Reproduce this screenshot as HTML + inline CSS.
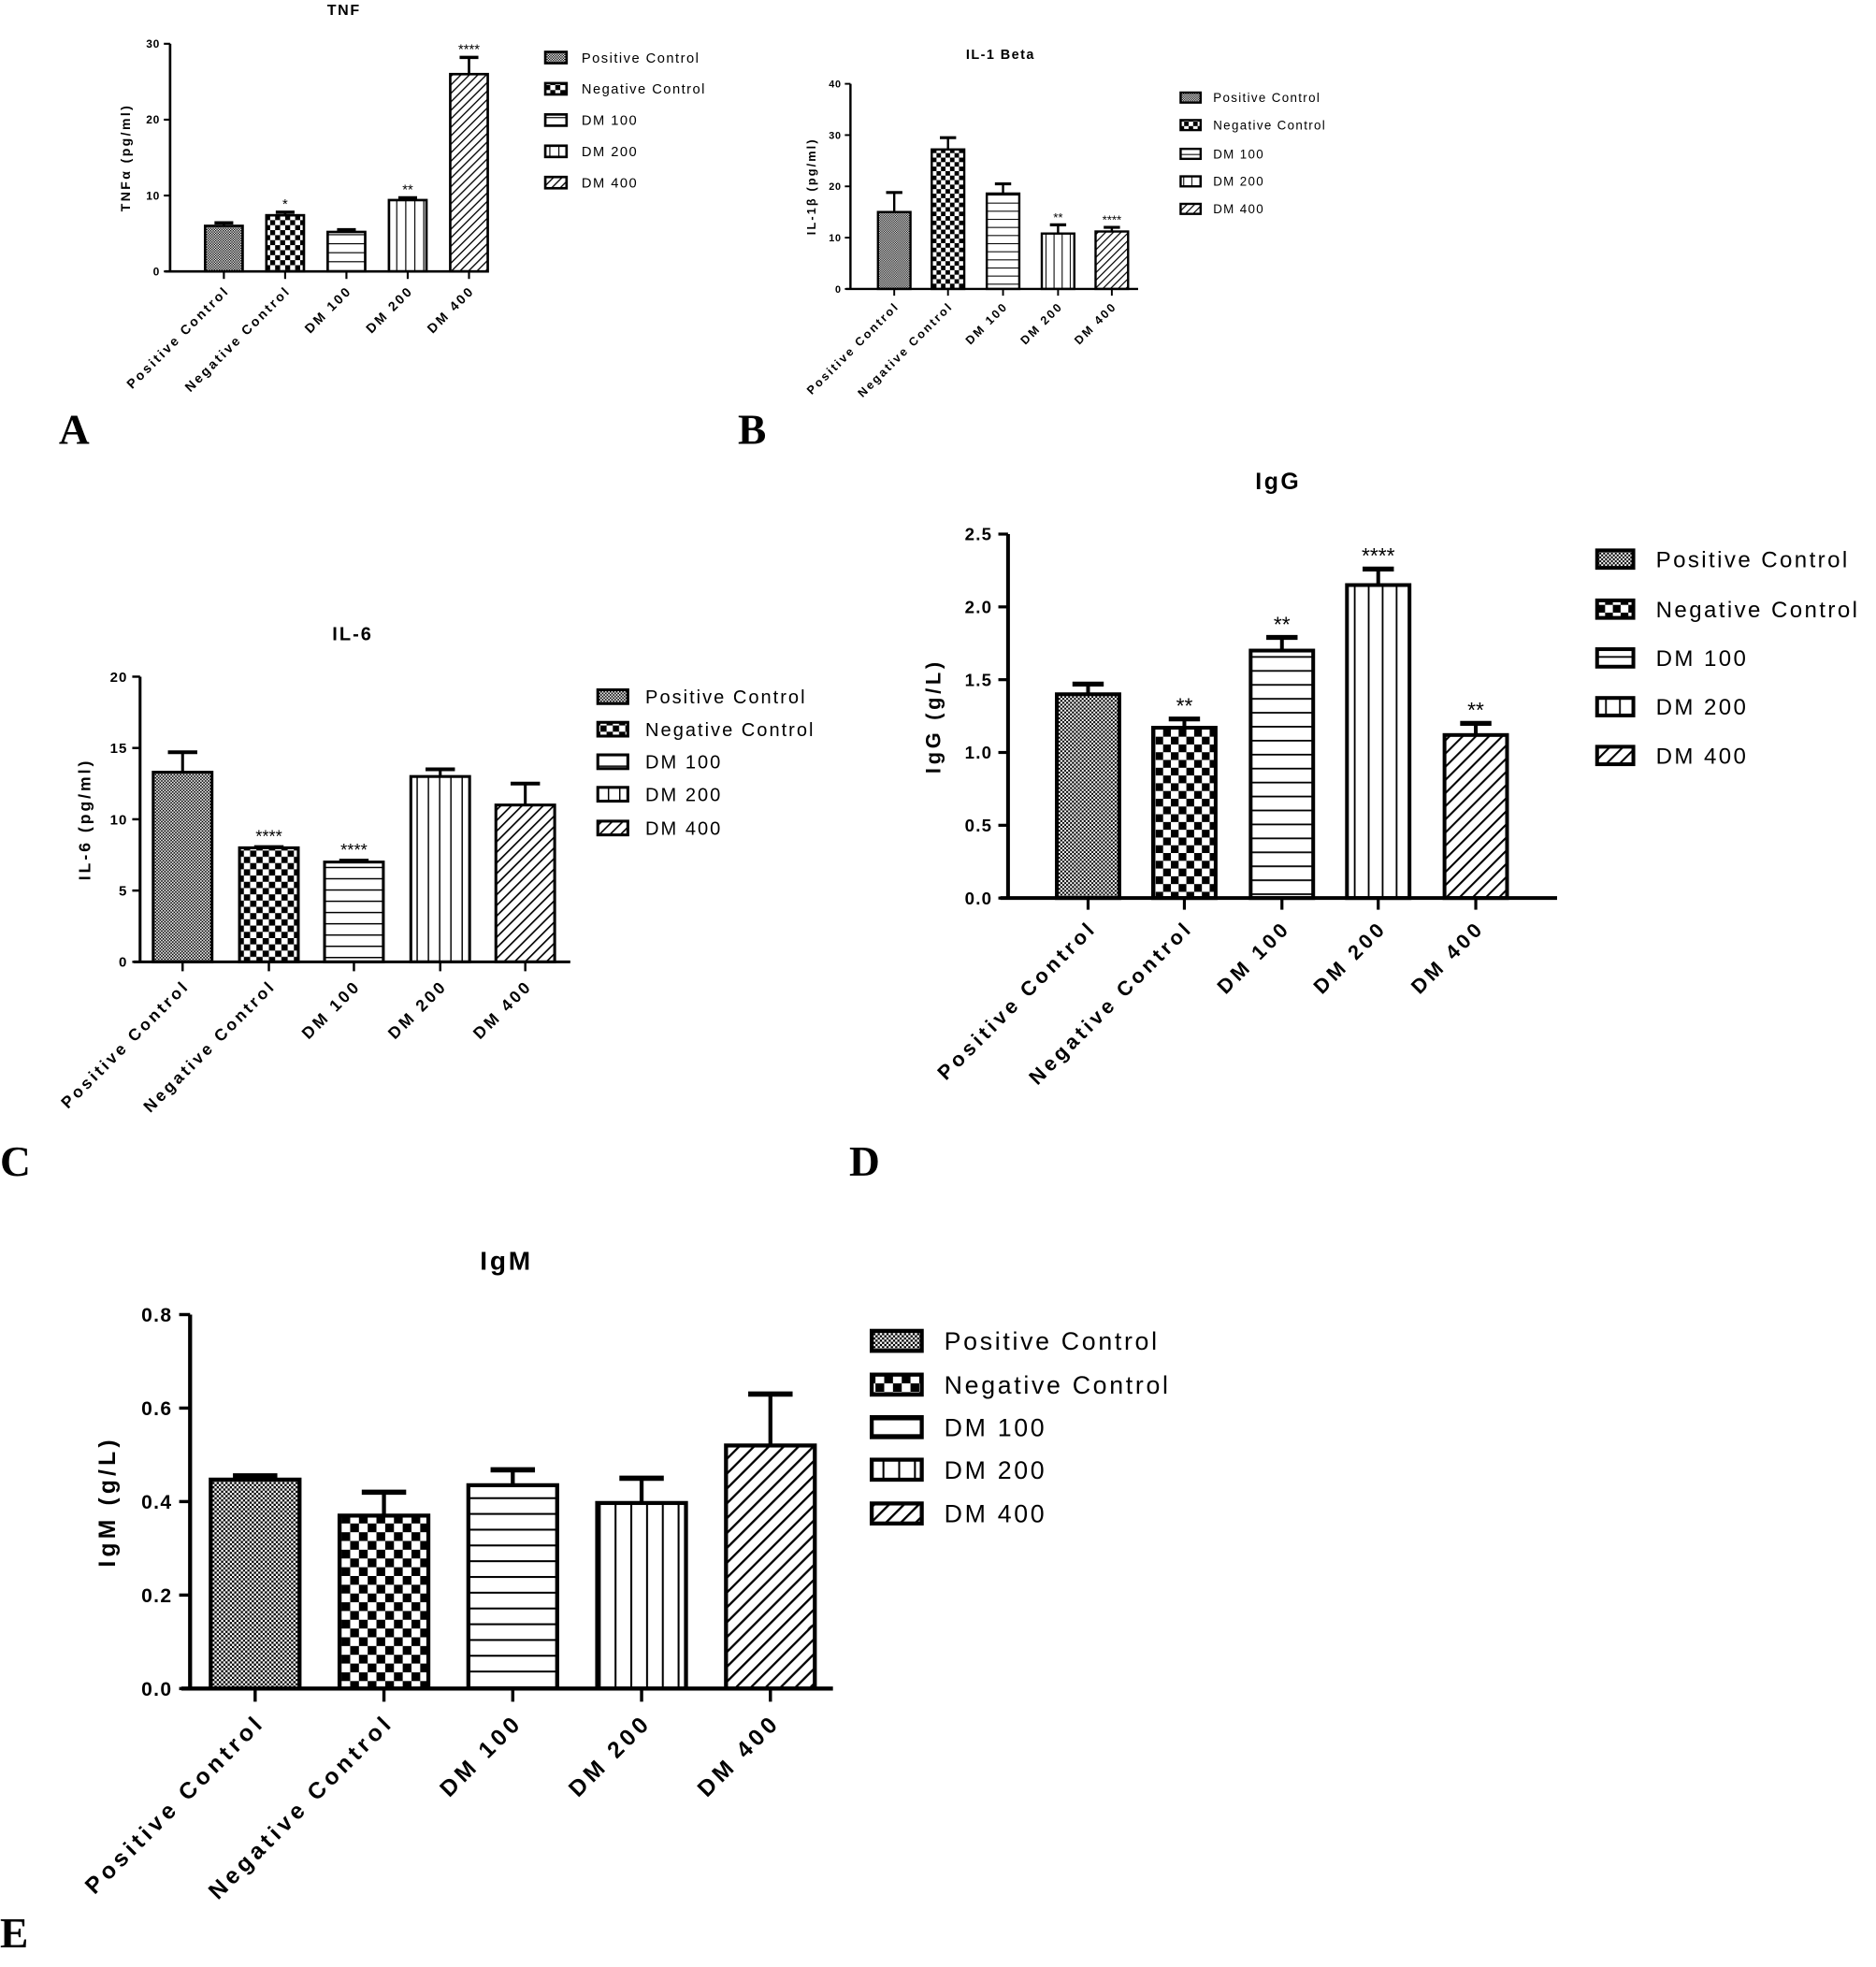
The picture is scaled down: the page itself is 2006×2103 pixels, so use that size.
<!DOCTYPE html>
<html><head><meta charset="utf-8">
<style>html,body{margin:0;padding:0;background:#fff}svg{display:block}</style>
</head><body>
<svg id="s" xmlns="http://www.w3.org/2000/svg" width="2006" height="2103" viewBox="0 0 1500 1572.6" preserveAspectRatio="none" font-family="Liberation Sans, Arial, sans-serif">
<rect width="1500" height="1572.6" fill="#fff"/>
<defs id="d"></defs>
<text x="47" y="355" font-family="Liberation Serif, serif" font-weight="bold" font-size="34">A</text>
<text x="590" y="355" font-family="Liberation Serif, serif" font-weight="bold" font-size="34">B</text>
<text x="0" y="940" font-family="Liberation Serif, serif" font-weight="bold" font-size="34">C</text>
<text x="679" y="940" font-family="Liberation Serif, serif" font-weight="bold" font-size="34">D</text>
<text x="0" y="1557" font-family="Liberation Serif, serif" font-weight="bold" font-size="34">E</text>
</svg>
<script>
var NS="http://www.w3.org/2000/svg",S=document.getElementById('s'),D=document.getElementById('d');
function el(t,a,p,txt){var e=document.createElementNS(NS,t);for(var k in a)e.setAttribute(k,a[k]);if(txt!=null)e.textContent=txt;(p||S).appendChild(e);return e;}
var names=["Positive Control","Negative Control","DM 100","DM 200","DM 400"];
function mkPat(id,k,s){
  var p;
  if(k==0){p=el('pattern',{id:id,width:s*0.5,height:s*0.5,patternUnits:'userSpaceOnUse'},D);el('rect',{width:s*0.5,height:s*0.5,fill:'#fff'},p);el('rect',{width:s*0.25,height:s*0.25,fill:'#000'},p);el('rect',{x:s*0.25,y:s*0.25,width:s*0.25,height:s*0.25,fill:'#000'},p);}
  else if(k==1){p=el('pattern',{id:id,width:s*2,height:s*2,patternUnits:'userSpaceOnUse'},D);el('rect',{width:s*2,height:s*2,fill:'#fff'},p);el('rect',{width:s,height:s,fill:'#000'},p);el('rect',{x:s,y:s,width:s,height:s,fill:'#000'},p);}
  else if(k==2){p=el('pattern',{id:id,width:s*2,height:s*1.8,patternUnits:'userSpaceOnUse'},D);el('rect',{width:s*2,height:s*1.8,fill:'#fff'},p);el('rect',{y:0,width:s*2,height:s*0.22,fill:'#000'},p);}
  else if(k==3){p=el('pattern',{id:id,width:s*1.8,height:s*2,patternUnits:'userSpaceOnUse'},D);el('rect',{width:s*1.8,height:s*2,fill:'#fff'},p);el('rect',{x:0,width:s*0.22,height:s*2,fill:'#000'},p);}
  else {p=el('pattern',{id:id,width:s*1.2,height:s*1.2,patternUnits:'userSpaceOnUse',patternTransform:'rotate(45)'},D);el('rect',{width:s*1.2,height:s*1.2,fill:'#fff'},p);el('rect',{width:s*0.25,height:s*1.2,fill:'#000'},p);}
}
function panel(c){
  var sc=c.s, sw=c.sw;
  for(var k=0;k<5;k++)mkPat(c.id+k,k,sc*4);
  var yv=function(v){return c.y0-(v/c.ymax)*(c.y0-c.yt);};
  el('text',{x:c.tx,y:c.ty,'font-size':sc*12,'font-weight':'bold','text-anchor':'middle','letter-spacing':sc*1.2},null,c.title);
  for(var i=0;i<5;i++){
    var cx=c.cx[i],w=c.bw,top=yv(c.v[i]),et=yv(c.e[i]);
    el('line',{x1:cx,x2:cx,y1:top,y2:et,stroke:'#000','stroke-width':sw});
    el('line',{x1:cx-w*0.25,x2:cx+w*0.25,y1:et,y2:et,stroke:'#000','stroke-width':sw*1.3});
    el('rect',{x:cx-w/2,y:top,width:w,height:c.y0-top,fill:'url(#'+c.id+i+')',stroke:'#000','stroke-width':sw});
    if(c.st[i])el('text',{x:cx,y:et-sc*3,'font-size':sc*11,'text-anchor':'middle'},null,c.st[i]);
    el('line',{x1:cx,x2:cx,y1:c.y0,y2:c.y0+sc*6,stroke:'#000','stroke-width':sw*0.8});
    el('text',{x:0,y:0,'font-size':sc*10.5,'font-weight':'bold','text-anchor':'end','letter-spacing':sc*1.9,
      transform:'translate('+(cx+sc*5)+','+(c.y0+sc*16)+') rotate(-45)'},null,names[i]);
  }
  el('line',{x1:c.ax,x2:c.ax,y1:c.yt,y2:c.y0,stroke:'#000','stroke-width':sw});
  el('line',{x1:c.ax-sc*4,x2:c.xe,y1:c.y0,y2:c.y0,stroke:'#000','stroke-width':sw});
  for(var t=0;t<=c.n;t++){var v=t*c.step,y=yv(v);
    el('line',{x1:c.ax-sc*5,x2:c.ax,y1:y,y2:y,stroke:'#000','stroke-width':sw*0.8});
    el('text',{x:c.ax-sc*8,y:y+sc*3.2,'font-size':sc*9,'font-weight':'bold','text-anchor':'end','letter-spacing':sc*0.6},null,c.fmt(v));}
  el('text',{x:0,y:0,'font-size':sc*10.5,'font-weight':'bold','text-anchor':'middle','letter-spacing':sc*1.8,
    transform:'translate('+c.lx+','+((c.yt+c.y0)/2)+') rotate(-90)'},null,c.yl);
  for(var i=0;i<5;i++){var y=c.lg[i];
    el('rect',{x:c.lbx,y:y-c.lbh/2,width:c.lbw,height:c.lbh,fill:'url(#'+c.id+i+')',stroke:'#000','stroke-width':sw});
    el('text',{x:c.ltx,y:y+c.lfs*0.36,'font-size':c.lfs,'letter-spacing':c.lfs*0.1},null,names[i]);}
}
var i0=function(v){return ''+Math.round(v);}, f1=function(v){return v.toFixed(1);};
panel({id:'a',s:1,sw:2,title:'TNF',tx:275,ty:12,ax:136,y0:217,yt:35,ymax:30,step:10,n:3,fmt:i0,xe:375,
 cx:[179,228,277,326,375],bw:30,v:[6,7.4,5.2,9.4,26],e:[6.4,7.8,5.5,9.7,28.2],st:['','*','','**','****'],
 lx:104,yl:'TNFα (pg/ml)',lg:[46,71,96,121,146],lbx:436,lbw:17,lbh:9,ltx:465,lfs:11});
panel({id:'b',s:0.9,sw:1.8,title:'IL-1 Beta',tx:800,ty:47,ax:680,y0:231,yt:67,ymax:40,step:10,n:4,fmt:i0,xe:910,
 cx:[715,758,802,846,889],bw:26,v:[15,27.2,18.6,10.8,11.2],e:[18.8,29.5,20.5,12.5,12],st:['','','','**','****'],
 lx:652,yl:'IL-1β (pg/ml)',lg:[78,100,123,145,167],lbx:944,lbw:16,lbh:8,ltx:970,lfs:10});
panel({id:'c',s:1.25,sw:2.3,title:'IL-6',tx:282,ty:512,ax:112,y0:769,yt:541,ymax:20,step:5,n:4,fmt:i0,xe:456,
 cx:[146,215,283,352,420],bw:47,v:[13.3,8,7,13,11],e:[14.7,8.05,7.1,13.5,12.5],st:['','****','****','',''],
 lx:72,yl:'IL-6 (pg/ml)',lg:[557,583,609,635,662],lbx:478,lbw:24,lbh:11,ltx:516,lfs:15});
panel({id:'dd',s:1.55,sw:3,title:'IgG',tx:1022,ty:391,ax:806,y0:718,yt:427,ymax:2.5,step:0.5,n:5,fmt:f1,xe:1245,
 cx:[870,947,1025,1102,1180],bw:50,v:[1.4,1.17,1.7,2.15,1.12],e:[1.47,1.23,1.79,2.26,1.2],st:['','**','**','****','**'],
 lx:752,yl:'IgG (g/L)',lg:[447,487,526,565,604],lbx:1277,lbw:29,lbh:14,ltx:1324,lfs:18});
panel({id:'e',s:1.75,sw:3.2,title:'IgM',tx:405,ty:1015,ax:152,y0:1350,yt:1051,ymax:0.8,step:0.2,n:4,fmt:f1,xe:666,
 cx:[204,307,410,513,616],bw:71,v:[0.447,0.37,0.435,0.397,0.52],e:[0.455,0.42,0.468,0.45,0.63],st:['','','','',''],
 lx:92,yl:'IgM (g/L)',lg:[1072,1107,1141,1175,1210],lbx:697,lbw:40,lbh:16,ltx:755,lfs:20});
</script>
</body></html>
